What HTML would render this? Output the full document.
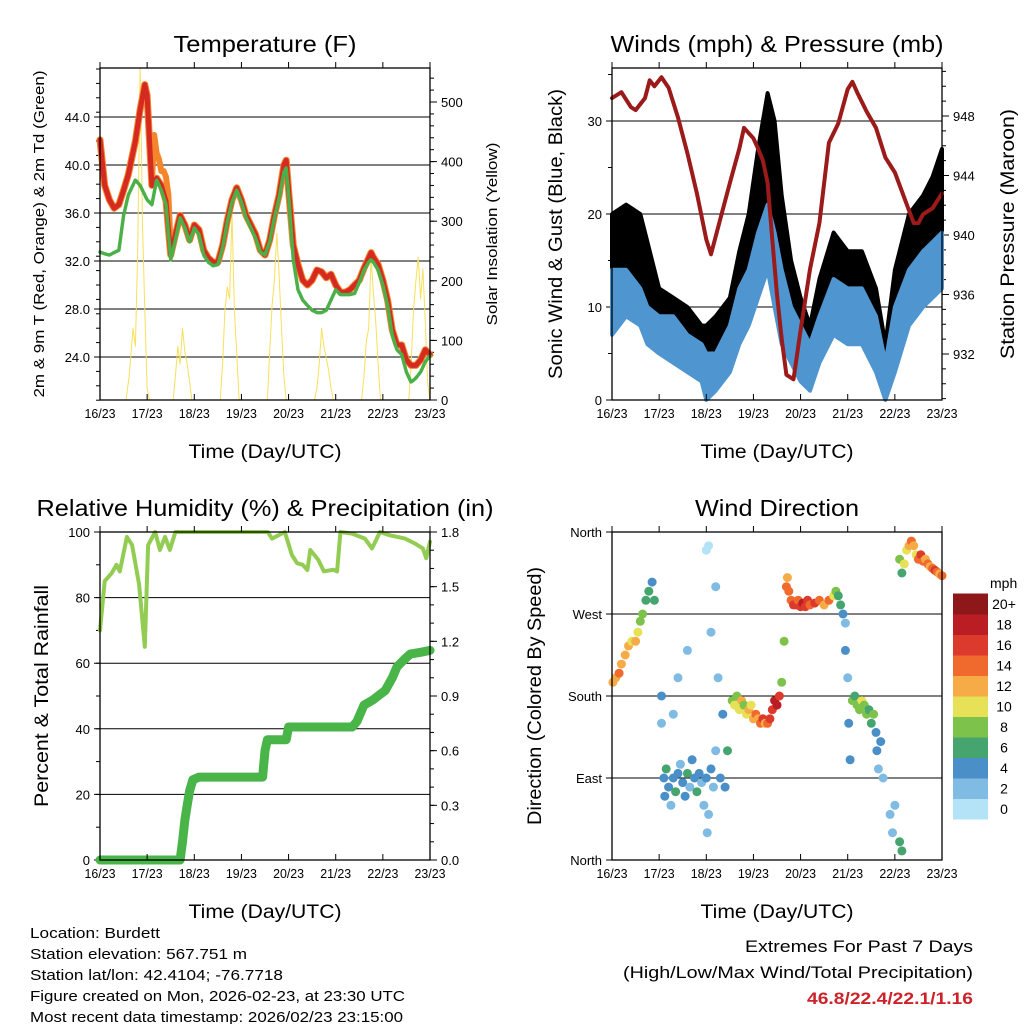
<!DOCTYPE html>
<html><head><meta charset="utf-8"><style>
html,body{margin:0;padding:0;background:#fff;}
svg{display:block;font-family:"Liberation Sans",Arial,sans-serif;}
</style></head><body>
<svg id="chart" width="1024" height="1024" viewBox="0 0 1024 1024" xmlns="http://www.w3.org/2000/svg">
<rect width="1024" height="1024" fill="#fff"/>
<g id="layer"></g>
<g font-size="15" fill="#000">
<text x="30" y="938" textLength="130" lengthAdjust="spacingAndGlyphs">Location: Burdett</text>
<text x="30" y="959" textLength="217" lengthAdjust="spacingAndGlyphs">Station elevation: 567.751 m</text>
<text x="30" y="980" textLength="253" lengthAdjust="spacingAndGlyphs">Station lat/lon: 42.4104; -76.7718</text>
<text x="30" y="1001" textLength="375" lengthAdjust="spacingAndGlyphs">Figure created on Mon, 2026-02-23, at 23:30 UTC</text>
<text x="30" y="1022" textLength="373" lengthAdjust="spacingAndGlyphs">Most recent data timestamp: 2026/02/23 23:15:00</text>
</g>
<g font-size="17">
<text x="745" y="952" textLength="228" lengthAdjust="spacingAndGlyphs">Extremes For Past 7 Days</text>
<text x="623" y="978" textLength="350" lengthAdjust="spacingAndGlyphs">(High/Low/Max Wind/Total Precipitation)</text>
<text x="807" y="1004" textLength="166" lengthAdjust="spacingAndGlyphs" font-weight="bold" fill="#cc2229">46.8/22.4/22.1/1.16</text>
</g>
</svg>
<script>
// ---------- DATA ----------
const dayLabels = ["16/23","17/23","18/23","19/23","20/23","21/23","22/23","23/23"];
// Temperature panel
const tTimes = [0,0.1,0.2,0.3,0.4,0.5,0.6,0.75,0.85,0.95,1.0,1.1,1.2,1.3,1.4,1.5,1.6,1.7,1.8,1.9,2.0,2.1,2.2,2.3,2.4,2.5,2.6,2.7,2.8,2.9,3.0,3.1,3.2,3.3,3.4,3.5,3.6,3.7,3.8,3.9,3.95,4.0,4.1,4.2,4.3,4.4,4.5,4.6,4.7,4.8,4.9,5.0,5.1,5.2,5.3,5.4,5.5,5.6,5.7,5.75,5.8,5.9,6.0,6.1,6.2,6.3,6.4,6.5,6.6,6.7,6.8,6.9,7.0];
const temp2m = [42.1,38.3,37.1,36.4,36.7,37.9,39.2,42,44.6,46.7,45.8,38.3,38.9,38.3,37,32.5,34.2,35.8,35,33.75,35,34.6,32.9,32.25,31.9,31.9,33.3,35.4,37.1,38.1,37.1,35.8,35,34.2,32.9,32.5,33.75,35.8,37.5,40,40.4,37.9,33.3,31.7,30.4,30,30.4,31.25,31.1,30.6,30.9,30,29.4,29.4,29.6,30,30.4,31.4,32.25,32.7,32.3,31.7,30.4,28.75,26.25,25,25,23.75,23.3,23.3,23.75,24.6,24.2];
const dew2m = [32.75,32.6,32.5,32.7,32.9,35.8,37.5,38.75,38.3,37.5,37.1,36.7,38.75,37.9,36.7,32.1,33.75,35.6,34.75,33.6,34.75,34.2,32.5,31.9,31.6,31.7,33.1,35.25,36.9,37.9,36.9,35.6,34.75,33.9,32.75,32.5,33.6,35.6,37.25,39.4,39.75,37.5,32.1,29.6,28.75,28.3,27.9,27.7,27.7,27.9,28.75,29.6,29.2,29.2,29.2,29.3,30.2,31.25,31.9,32.1,31.9,31.25,30,28.3,25.8,24.6,24.2,22.75,21.9,22.25,22.75,23.6,24.1];
const orangeTimes = [1.1,1.15,1.2,1.25,1.3,1.35,1.4,1.45,1.5];
const temp9m = [38.5,42.5,41,40.5,39.5,39.5,39,37.5,33];
const solarTimes = [0,0.55,0.62,0.7,0.75,0.8,0.85,0.88,0.9,0.95,1.0,1.05,1.55,1.6,1.65,1.7,1.75,1.8,1.85,1.9,1.95,2.55,2.6,2.65,2.7,2.75,2.8,2.85,2.9,2.95,3.55,3.6,3.65,3.7,3.75,3.8,3.85,3.9,3.95,4.55,4.6,4.65,4.7,4.75,4.8,4.85,4.9,4.95,5.55,5.6,5.65,5.7,5.75,5.8,5.85,5.9,5.95,6.55,6.6,6.65,6.7,6.75,6.8,6.85,6.9,6.95,7.0];
const solarVals = [0,0,40,120,90,250,557,420,300,150,20,0,0,40,90,60,120,80,60,30,0,0,60,150,190,170,315,150,80,0,0,80,160,200,280,210,120,40,0,0,20,60,120,90,70,50,20,0,0,40,100,120,240,180,130,60,0,0,60,150,200,240,170,220,130,30,0];
// Winds panel
const windTimes = [0,0.3,0.6,0.75,1.0,1.3,1.6,1.9,2.0,2.2,2.5,2.7,2.9,3.1,3.3,3.45,3.6,3.8,4.0,4.2,4.4,4.7,5.0,5.3,5.6,5.8,6.0,6.3,6.6,6.8,7.0];
const windLow = [7,9,8,6,5,4,3,2,0,1,3,6,8,11,14,10,6,4,2,1,4,7,6,6,3,0,3,8,10,11,12];
const windHigh = [14,14,12,10,9,9,7,6,5,5,8,12,14,18,21,18,14,10,8,6,9,13,12,12,9,4,10,14,16,17,18];
const gustLow = [12,13,12,9,7,7,5,3,3,3,6,8,13,17,22,18,10,6,4,2,7,11,9,9,5,1,5,13,14,16,18];
const gustHigh = [20,21,20,17,12,11,10,8,8,9,11,16,20,27,33,30,22,15,11,8,13,18,16,16,12,6,14,20,22,24,27];
const presTimes = [0,0.2,0.4,0.5,0.7,0.8,0.9,1.05,1.2,1.4,1.6,1.8,2.0,2.1,2.3,2.5,2.7,2.8,3.0,3.1,3.2,3.3,3.4,3.5,3.6,3.7,3.85,4.0,4.2,4.4,4.6,4.8,5.0,5.1,5.2,5.4,5.6,5.8,6.0,6.2,6.4,6.5,6.6,6.8,7.0];
const presVals = [949.2,949.6,948.6,948.4,949.2,950.4,950.0,950.6,949.9,947.9,945.5,942.8,939.7,938.7,941.1,943.5,945.8,947.2,946.5,945.8,945,943.5,939.7,936,933,930.6,930.3,933.6,937.7,940.8,946.2,947.5,949.8,950.3,949.6,948.3,947.2,945.2,944.2,942.5,940.8,940.8,941.4,941.8,942.8];
// RH / precip panel
const rhTimes = [0,0.1,0.25,0.35,0.42,0.57,0.68,0.83,0.95,1.02,1.17,1.27,1.38,1.48,1.6,3.56,3.65,3.92,4.07,4.18,4.3,4.4,4.46,4.63,4.75,4.95,5.03,5.1,5.35,5.62,5.77,5.94,6.15,6.47,6.68,6.85,6.92,7.0];
const rhVals = [70,85,87.5,90,88,98.5,96,84,65,96,100,94.5,98.5,94.5,100,100,98,100,93,90.5,90,88.4,94.5,91.5,88,88.5,88,100,99.5,98,95,100,99,98,96.5,95,92,97];
const precipTimes = [0,1.7,1.75,1.8,1.85,1.9,1.97,2.1,3.45,3.5,3.55,3.95,4.0,5.35,5.45,5.6,5.8,6.05,6.2,6.3,6.45,6.58,6.8,7.0];
const precipVals = [0,0,0.1,0.22,0.3,0.38,0.44,0.455,0.455,0.6,0.66,0.66,0.73,0.73,0.76,0.85,0.88,0.93,1.0,1.06,1.1,1.13,1.14,1.15];
// Wind direction panel
const dirTimes = [0.02,0.08,0.15,0.2,0.28,0.35,0.42,0.5,0.55,0.6,0.65,0.72,0.78,0.85,0.9,1.05,1.05,1.1,1.12,1.15,1.2,1.25,1.3,1.35,1.4,1.45,1.5,1.55,1.6,1.65,1.7,1.75,1.8,1.85,1.9,1.95,2.0,2.0,2.02,2.05,2.05,2.1,2.15,2.2,2.2,2.25,2.3,2.35,2.4,2.45,1.3,1.4,1.6,2.1,2.55,2.6,2.65,2.7,2.75,2.8,2.85,2.9,2.95,3.0,3.05,3.1,3.15,3.2,3.25,3.3,3.35,3.4,3.45,3.5,3.55,3.6,3.65,3.7,3.72,3.75,3.8,3.85,3.9,3.95,4.0,4.05,4.1,4.15,4.2,4.3,4.4,4.5,4.6,4.7,4.75,4.8,4.85,4.9,4.95,4.95,5.0,5.02,5.05,5.1,5.15,5.2,5.25,5.3,5.35,5.4,5.45,5.5,5.55,5.6,5.62,5.65,5.7,5.75,5.9,5.95,6.0,6.1,6.15,6.1,6.15,6.2,6.25,6.3,6.35,6.4,6.45,6.5,6.55,6.6,6.65,6.7,6.75,6.8,6.85,6.9,6.95,7.0];
const dirDegs = [195,200,205,215,225,235,240,240,250,262,270,285,295,305,285,150,180,90,70,100,80,60,90,75,95,105,85,70,95,80,110,90,75,95,85,60,90,340,30,50,345,100,80,120,300,200,90,160,80,120,160,200,230,250,175,170,180,165,175,170,160,165,170,155,160,155,150,155,150,150,155,165,175,170,180,195,240,300,310,295,285,280,280,285,278,282,278,285,280,282,285,280,285,290,295,290,280,270,260,230,200,150,110,175,180,170,165,175,170,160,165,150,160,140,120,100,130,90,50,30,60,20,10,330,315,325,340,345,350,345,335,330,335,328,330,325,322,320,318,316,314,312];
const dirSpeeds = [12,12,14,12,12,12,10,12,10,8,8,6,6,4,6,2,4,4,4,6,4,2,4,6,4,2,4,4,6,2,4,4,6,4,2,2,4,0,2,2,0,4,2,2,2,2,4,4,4,6,2,2,2,2,8,10,8,10,12,8,10,12,10,12,14,12,14,16,12,14,16,16,18,18,16,8,8,14,12,14,14,16,16,14,16,18,16,16,14,16,14,12,14,10,8,6,6,4,2,4,2,4,4,8,6,8,8,10,8,8,6,6,8,4,4,2,4,2,2,2,2,6,6,8,6,10,10,12,14,12,10,14,16,14,12,14,12,14,16,14,12,14];
const speedTicks = ["0","2","4","6","8","10","12","14","16","18","20+"];
const speedColors = ["#b4e3f8","#7fbbe3","#4a8fc7","#46a56e","#7dc24b","#e7e157","#f6ab47","#f06a2e","#db3a2c","#bb1d24","#8e1719"];

// ---------- DRAWING ----------
const NS = "http://www.w3.org/2000/svg";
const layer = document.getElementById("layer");
function mk(tag, attrs, parent) {
  const e = document.createElementNS(NS, tag);
  for (const k in attrs) e.setAttribute(k, attrs[k]);
  (parent || layer).appendChild(e);
  return e;
}
function linScale(d0, d1, r0, r1) { return v => r0 + (v - d0) * (r1 - r0) / (d1 - d0); }

function panel(name, x0, x1, y0, y1) {
  const g = mk("g", {});
  
  
  return {g, x0, x1, y0, y1, xs: linScale(0, 7, x0, x1)};
}
function txt(g, x, y, s, size, anchor, nm, extra) {
  const t = mk("text", Object.assign({x, y, "font-size": size, "text-anchor": anchor || "start", fill: "#000"}, extra || {}), g);
  t.textContent = s;
  
  
  return t;
}
function frame(p, title, titleLen) {
  const g = p.g;
  const tt = txt(g, (p.x0 + p.x1) / 2, 52, title, 23, "middle", "panel-title", {textLength: titleLen, lengthAdjust: "spacingAndGlyphs"});
  tt.setAttribute("y", p.y0 - 16);
  for (let i = 0; i < dayLabels.length; i++) {
    const x = p.xs(i);
    const t1 = mk("line", {x1: x, x2: x, y1: p.y1, y2: p.y1 - 6, stroke: "#000", "stroke-width": 1}, g);
    
    
    const t2 = mk("line", {x1: x, x2: x, y1: p.y0, y2: p.y0 - 6, stroke: "#000", "stroke-width": 1}, g);
    
    
    txt(g, x, p.y1 + 18, dayLabels[i], 13, "middle", "x-tick-label", {textLength: 31, lengthAdjust: "spacingAndGlyphs"});
  }
  txt(g, (p.x0 + p.x1) / 2, p.y1 + 58, "Time (Day/UTC)", 19, "middle", "x-axis-title", {textLength: 153, lengthAdjust: "spacingAndGlyphs"});
}
function box(p) {
  const r = mk("rect", {x: p.x0, y: p.y0, width: p.x1 - p.x0, height: p.y1 - p.y0, fill: "none", stroke: "#000", "stroke-width": 1.3}, p.g);
  
  
}
function leftAxis(p, ys, vals, labels, minorStep, lo, hi, grid) {
  for (let i = 0; i < vals.length; i++) {
    const y = ys(vals[i]);
    if (grid) {
      const gl = mk("line", {x1: p.x0 - 6, x2: p.x1, y1: y, y2: y, stroke: "#000", "stroke-width": 1}, p.g);
      
      
    }
    txt(p.g, p.x0 - 10, y + 5, labels[i], 13, "end", "y-tick-label");
  }
  if (minorStep) for (let v = lo; v <= hi + 1e-9; v += minorStep) {
    const y = ys(v);
    const m = mk("line", {x1: p.x0 - 4, x2: p.x0, y1: y, y2: y, stroke: "#000", "stroke-width": 1}, p.g);
    
    
  }
}
function rightAxis(p, ys, vals, labels, minorStep, lo, hi) {
  for (let i = 0; i < vals.length; i++) {
    const y = ys(vals[i]);
    const t = mk("line", {x1: p.x1, x2: p.x1 + 7, y1: y, y2: y, stroke: "#000", "stroke-width": 1}, p.g);
    
    
    txt(p.g, p.x1 + 11, y + 5, labels[i], 13, "start", "y2-tick-label");
  }
  if (minorStep) for (let v = lo; v <= hi + 1e-9; v += minorStep) {
    const y = ys(v);
    const m = mk("line", {x1: p.x1, x2: p.x1 + 4, y1: y, y2: y, stroke: "#000", "stroke-width": 1}, p.g);
    
    
  }
}
function vtitle(g, x, y, s, size, len, nm) {
  return txt(g, x, y, s, size, "middle", nm, {transform: `rotate(-90 ${x} ${y})`, textLength: len, lengthAdjust: "spacingAndGlyphs"});
}
function path(p, xsArr, ysArr, xs, ys, attrs, nm) {
  let d = "";
  for (let i = 0; i < xsArr.length; i++) d += (i ? "L" : "M") + xs(xsArr[i]).toFixed(1) + " " + ys(ysArr[i]).toFixed(1);
  const e = mk("path", Object.assign({d, fill: "none", "stroke-linejoin": "round", "stroke-linecap": "round"}, attrs), p.g);
  
  
  return e;
}
function band(p, tArr, lo, hi, xs, ys, color, nm) {
  let d = "";
  for (let i = 0; i < tArr.length; i++) d += (i ? "L" : "M") + xs(tArr[i]).toFixed(1) + " " + ys(hi[i]).toFixed(1);
  for (let i = tArr.length - 1; i >= 0; i--) d += "L" + xs(tArr[i]).toFixed(1) + " " + ys(lo[i]).toFixed(1);
  const e = mk("path", {d: d + "Z", fill: color, stroke: color, "stroke-width": 4, "stroke-linejoin": "round"}, p.g);
  
  
}

// Panel 1: temperature
(function () {
  const p = panel("temperature-panel", 100, 430, 68, 400);
  const ys = linScale(24, 44, 357, 117);
  const ys2 = linScale(0, 500, 400, 102);
  leftAxis(p, ys, [24,28,32,36,40,44], ["24.0","28.0","32.0","36.0","40.0","44.0"], 1.2, 20.4, 48, true);
  rightAxis(p, ys2, [0,100,200,300,400,500], ["0","100","200","300","400","500"], 20, 0, 550);
  path(p, solarTimes, solarVals, p.xs, ys2, {stroke: "#f7e05a", "stroke-width": 1}, "solar-insolation-line");
  path(p, orangeTimes, temp9m, p.xs, ys, {stroke: "#f5852a", "stroke-width": 6}, "temp-9m-line");
  path(p, tTimes, temp2m, p.xs, ys, {stroke: "#f5852a", "stroke-width": 7}, "temp-9m-line-base");
  path(p, tTimes, temp2m, p.xs, ys, {stroke: "#d42a22", "stroke-width": 5}, "temp-2m-line");
  path(p, tTimes, dew2m, p.xs, ys, {stroke: "#4bb048", "stroke-width": 3.5, "stroke-dasharray": "3 1.5"}, "dewpoint-2m-line");
  box(p);
  frame(p, "Temperature (F)", 183);
  vtitle(p.g, 44, 234, "2m & 9m T (Red, Orange) & 2m Td (Green)", 15, 327, "y-axis-title");
  vtitle(p.g, 497, 234, "Solar Insolation (Yellow)", 15, 183, "y2-axis-title");
})();

// Panel 2: winds & pressure
(function () {
  const p = panel("winds-panel", 612, 942, 68, 400);
  const ys = linScale(0, 30, 400, 121);
  const ys2 = linScale(932, 948, 354, 116);
  leftAxis(p, ys, [0,10,20,30], ["0","10","20","30"], 5, 0, 35, true);
  rightAxis(p, ys2, [932,936,940,944,948], ["932","936","940","944","948"], 1, 929, 951);
  band(p, windTimes, gustLow, gustHigh, p.xs, ys, "#000", "gust-points");
  band(p, windTimes, windLow, windHigh, p.xs, ys, "#4f96d1", "sonic-wind-band");
  path(p, presTimes, presVals, p.xs, ys2, {stroke: "#9b1a1a", "stroke-width": 4}, "pressure-line");
  box(p);
  frame(p, "Winds (mph) & Pressure (mb)", 333);
  vtitle(p.g, 562, 234, "Sonic Wind & Gust (Blue, Black)", 19, 290, "y-axis-title");
  vtitle(p.g, 1014, 234, "Station Pressure (Maroon)", 19, 250, "y2-axis-title");
})();

// Panel 3: RH & precip
(function () {
  const p = panel("humidity-precip-panel", 100, 430, 532, 860);
  const ys = linScale(0, 100, 860, 532);
  const ys2 = linScale(0, 1.8, 860, 532);
  leftAxis(p, ys, [0,20,40,60,80,100], ["0","20","40","60","80","100"], 10, 0, 100, true);
  rightAxis(p, ys2, [0,0.3,0.6,0.9,1.2,1.5,1.8], ["0.0","0.3","0.6","0.9","1.2","1.5","1.8"], 0.1, 0, 1.8);
  path(p, rhTimes, rhVals, p.xs, ys, {stroke: "#93cc52", "stroke-width": 4}, "relative-humidity-line");
  path(p, precipTimes, precipVals, p.xs, ys2, {stroke: "#49b447", "stroke-width": 9}, "precipitation-line");
  box(p);
  frame(p, "Relative Humidity (%) & Precipitation (in)", 457);
  vtitle(p.g, 48, 696, "Percent & Total Rainfall", 19, 222, "y-axis-title");
})();

// Panel 4: wind direction
(function () {
  const p = panel("wind-direction-panel", 612, 942, 532, 860);
  const ys = linScale(0, 360, 860, 532);
  leftAxis(p, ys, [0,90,180,270,360], ["North","East","South","West","North"], 0, 0, 0, true);
  for (let i = 0; i < dirTimes.length; i++) {
    const si = Math.min(10, Math.floor(dirSpeeds[i] / 2));
    const c = mk("circle", {cx: p.xs(dirTimes[i]).toFixed(1), cy: ys(dirDegs[i]).toFixed(1), r: 4.5, fill: speedColors[si]}, p.g);
    
    
  }
  box(p);
  frame(p, "Wind Direction", 164);
  vtitle(p.g, 541, 696, "Direction (Colored By Speed)", 19, 258, "y-axis-title");
  const lg = mk("g", {}, p.g);
  
  
  txt(lg, 990, 588, "mph", 14, "start", "colorbar-title");
  const bh = 20.5;
  for (let i = 0; i < speedColors.length; i++) {
    const y = 819 - (i + 1) * bh;
    const r = mk("rect", {x: 953, y: y, width: 35, height: bh + 0.5, fill: speedColors[i]}, lg);
    
    
    txt(lg, 1004, y + bh / 2 + 5, speedTicks[i], 14, "middle", "colorbar-label");
  }
})();
</script>
</body></html>
